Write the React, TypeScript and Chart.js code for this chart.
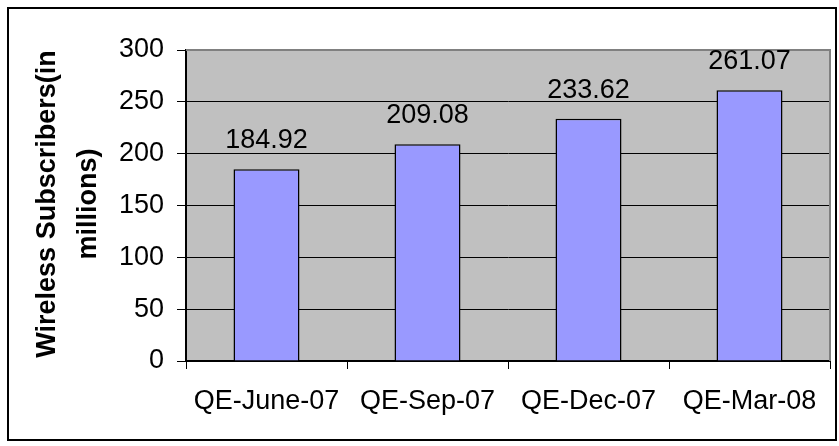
import React, { useEffect, useRef } from "react";
import { Chart, registerables } from "chart.js";

Chart.register(...registerables);

const categories = ["QE-June-07", "QE-Sep-07", "QE-Dec-07", "QE-Mar-08"];
const subscribers = [184.92, 209.08, 233.62, 261.07];
const yMin = 0;
const yMax = 300;
const yStep = 50;
const yTitleLines = ["Wireless Subscribers(in", "millions)"];

const W = 839;
const H = 446;
const FONT = "'Liberation Sans', Arial, sans-serif";
const FS = 27;

const decorPlugin = {
  id: "decor",
  beforeDraw(chart: any) {
    const { ctx, chartArea: a } = chart;
    ctx.save();
    ctx.fillStyle = "#ffffff";
    ctx.fillRect(0, 0, W, H);
    ctx.fillStyle = "#C0C0C0";
    ctx.fillRect(a.left, a.top, a.right - a.left, a.bottom - a.top);
    ctx.restore();
  },
  afterDraw(chart: any) {
    const { ctx, chartArea: a } = chart;
    ctx.save();
    // plot area top/right border
    ctx.strokeStyle = "#808080";
    ctx.lineWidth = 2;
    ctx.beginPath();
    ctx.moveTo(a.left, a.top);
    ctx.lineTo(a.right, a.top);
    ctx.lineTo(a.right, a.bottom);
    ctx.stroke();
    // data labels
    const meta = chart.getDatasetMeta(0);
    ctx.fillStyle = "#000";
    ctx.font = `${FS}px ${FONT}`;
    ctx.textAlign = "center";
    ctx.textBaseline = "alphabetic";
    meta.data.forEach((bar: any, i: number) => {
      ctx.fillText(subscribers[i].toFixed(2), bar.x, bar.y - 21);
    });
    // y title
    ctx.font = `bold ${FS}px ${FONT}`;
    ctx.textBaseline = "middle";
    const cy = 204;
    const xs = [48, 89];
    yTitleLines.forEach((line, i) => {
      ctx.save();
      ctx.translate(xs[i], cy);
      ctx.rotate(-Math.PI / 2);
      ctx.fillText(line, 0, 0);
      ctx.restore();
    });
    // outer frame
    ctx.strokeStyle = "#000";
    ctx.lineWidth = 2;
    ctx.strokeRect(8, 8, 828, 432);
    ctx.restore();
  },
};

export default function App() {
  const ref = useRef<HTMLCanvasElement | null>(null);
  useEffect(() => {
    if (!ref.current) return;
    const chart = new Chart(ref.current, {
      type: "bar",
      data: {
        labels: categories,
        datasets: [
          {
            data: subscribers,
            backgroundColor: "#9999FF",
            borderColor: "#000000",
            borderWidth: 1.5,
            barPercentage: 0.41,
            categoryPercentage: 1,
          },
        ],
      },
      options: {
        animation: false,
        responsive: false,
        devicePixelRatio: 1,
        layout: { padding: { left: 0, top: 50, right: 9, bottom: 0 } },
        plugins: {
          legend: { display: false },
          tooltip: { enabled: false },
          title: { display: false },
        },
        scales: {
          x: {
            type: "category",
            offset: true,
            grid: {
              offset: true,
              drawOnChartArea: false,
              drawTicks: true,
              tickLength: 8,
              color: "#000",
              lineWidth: 1,
            },
            border: { display: true, color: "#000", width: 2 },
            ticks: {
              color: "#000",
              font: { family: FONT, size: FS },
              padding: 16,
              maxRotation: 0,
              autoSkip: false,
            },
            afterFit: (s: any) => {
              s.height = H - 361;
            },
          },
          y: {
            min: yMin,
            max: yMax,
            grid: {
              color: "#000",
              lineWidth: 1,
              drawTicks: true,
              tickLength: 9,
              tickColor: "#000",
            },
            border: { display: true, color: "#000", width: 2 },
            ticks: {
              stepSize: yStep,
              color: "#000",
              font: { family: FONT, size: FS },
              padding: 13,
            },
            afterFit: (s: any) => {
              s.width = 186;
            },
          },
        },
      },
      plugins: [decorPlugin],
    });
    return () => chart.destroy();
  }, []);
  return (
    <div style={{ position: "fixed", left: 0, top: 0, width: W, height: H, background: "#fff" }}>
      <canvas ref={ref} width={W} height={H} style={{ display: "block", width: W, height: H }} />
    </div>
  );
}
